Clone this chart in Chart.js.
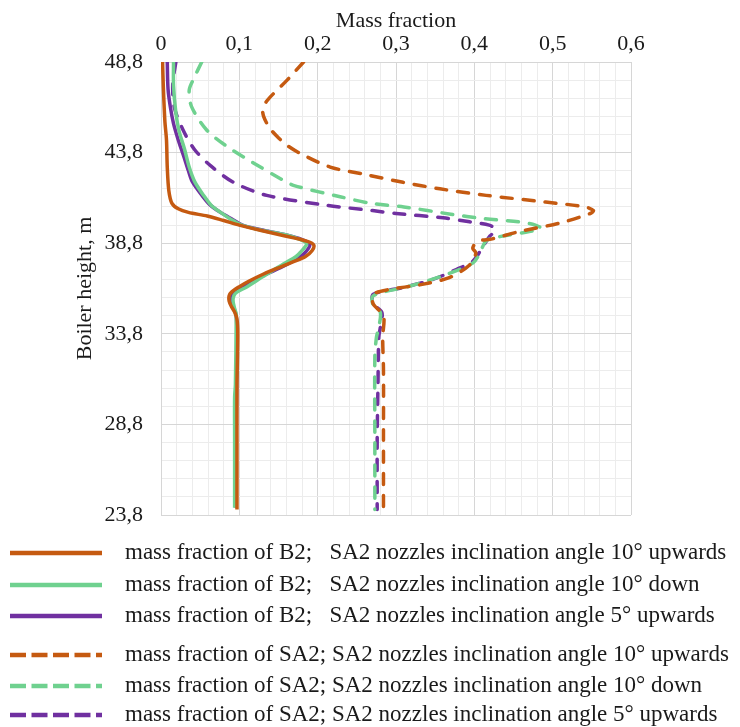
<!DOCTYPE html>
<html>
<head>
<meta charset="utf-8">
<script src="https://cdn.jsdelivr.net/npm/chart.js@4.4.1/dist/chart.umd.min.js"></script>
<style>
  html, body { margin: 0; padding: 0; background: #fff; }
  #wrap { width: 740px; height: 727px; position: relative; }
</style>
</head>
<body>
<div id="wrap"><canvas id="chart"></canvas></div>
<script>
// Axis ticks (major ticks carry labels, minor ones only grid lines)
const X_TICKS  = [0, 0.1, 0.2, 0.3, 0.4, 0.5, 0.6];
const X_LABELS = ['0', '0,1', '0,2', '0,3', '0,4', '0,5', '0,6'];
const X_MINOR  = 0.02;
const Y_TICKS  = [23.8, 28.8, 33.8, 38.8, 43.8, 48.8];
const Y_LABELS = ['23,8', '28,8', '33,8', '38,8', '43,8', '48,8'];
const Y_MINOR  = 1;

// Profiles: [boiler height (m), mass fraction]
const B2_UP10 = [
  [48.8, 0.002], [47.4, 0.003], [45.5, 0.005], [44.5, 0.007], [43.0, 0.008],
  [41.7, 0.010], [41.0, 0.014], [40.7, 0.022], [40.5, 0.035], [40.3, 0.059],
  [40.05, 0.080], [39.8, 0.100], [39.5, 0.128], [39.25, 0.153], [38.9, 0.187],
  [38.7, 0.195], [38.4, 0.193], [38.05, 0.184], [37.8, 0.170], [37.5, 0.153],
  [37.1, 0.131], [36.7, 0.112], [36.4, 0.100], [36.1, 0.090], [35.9, 0.087],
  [35.6, 0.087], [35.3, 0.090], [35.0, 0.094], [34.6, 0.097], [33.8, 0.098],
  [31.0, 0.097], [28.0, 0.097], [24.1, 0.097]
];
const B2_DOWN10 = [
  [48.8, 0.016], [47.5, 0.016], [46.0, 0.019], [45.0, 0.023], [44.0, 0.030],
  [43.0, 0.036], [42.2, 0.043], [41.4, 0.055], [40.9, 0.064], [40.5, 0.076],
  [40.1, 0.090], [39.8, 0.103], [39.5, 0.130], [39.25, 0.160], [39.0, 0.178],
  [38.8, 0.186], [38.6, 0.184], [38.3, 0.178], [38.05, 0.172], [37.7, 0.158],
  [37.3, 0.143], [36.9, 0.128], [36.4, 0.110], [36.1, 0.097], [35.9, 0.093],
  [35.6, 0.092], [35.2, 0.094], [34.9, 0.096], [34.5, 0.096], [31.0, 0.095],
  [30.3, 0.094], [28.0, 0.094], [24.2, 0.094]
];
const B2_UP5 = [
  [48.8, 0.008], [47.3, 0.009], [46.3, 0.012], [45.4, 0.016], [44.5, 0.022],
  [43.6, 0.029], [42.8, 0.035], [42.2, 0.040], [41.4, 0.053], [40.9, 0.063],
  [40.5, 0.076], [40.1, 0.092], [39.8, 0.104], [39.5, 0.132], [39.25, 0.160],
  [39.0, 0.180], [38.75, 0.190], [38.5, 0.188], [38.2, 0.182], [37.9, 0.172],
  [37.5, 0.155], [37.1, 0.135], [36.7, 0.118], [36.4, 0.105], [36.1, 0.094],
  [35.9, 0.090], [35.6, 0.090], [35.2, 0.093], [34.8, 0.096], [33.5, 0.097],
  [28.0, 0.096], [24.2, 0.096]
];
const SA2_UP10 = [
  [48.8, 0.182], [47.8, 0.161], [46.7, 0.136], [46.2, 0.130], [45.8, 0.131],
  [45.2, 0.138], [44.7, 0.148], [44.2, 0.161], [43.75, 0.178], [43.0, 0.216],
  [42.6, 0.260], [42.16, 0.309], [41.8, 0.356], [41.44, 0.415], [41.07, 0.491],
  [40.8, 0.542], [40.6, 0.552], [40.44, 0.548], [39.9, 0.508], [39.44, 0.457],
  [39.04, 0.423], [38.9, 0.404], [38.53, 0.398], [38.25, 0.402], [37.6, 0.394],
  [36.9, 0.368], [36.5, 0.330], [36.25, 0.292], [35.98, 0.271], [35.44, 0.271],
  [34.8, 0.284], [33.6, 0.283], [31.8, 0.284], [28.0, 0.284], [24.1, 0.284]
];
const SA2_DOWN10 = [
  [48.8, 0.052], [47.9, 0.042], [47.25, 0.036], [46.34, 0.039], [45.06, 0.058],
  [44.15, 0.084], [43.23, 0.118], [42.3, 0.155], [41.98, 0.170], [41.35, 0.230],
  [41.0, 0.268], [40.8, 0.310], [40.4, 0.370], [40.16, 0.411], [39.98, 0.457],
  [39.8, 0.478], [39.62, 0.485], [39.44, 0.470], [39.16, 0.432], [38.93, 0.415],
  [38.25, 0.407], [37.7, 0.398], [37.07, 0.364], [36.44, 0.318], [35.9, 0.271],
  [35.35, 0.271], [34.98, 0.280], [34.16, 0.278], [33.6, 0.275], [32.5, 0.273],
  [28.0, 0.273], [24.1, 0.273]
];
const SA2_UP5 = [
  [48.8, 0.019], [47.6, 0.015], [46.3, 0.017], [45.06, 0.028], [43.96, 0.043],
  [43.05, 0.064], [42.15, 0.093], [41.44, 0.135], [40.89, 0.212], [40.6, 0.270],
  [40.44, 0.300], [40.2, 0.360], [39.98, 0.394], [39.8, 0.419], [39.6, 0.426],
  [39.44, 0.426], [39.2, 0.420], [38.62, 0.411], [37.8, 0.398], [37.35, 0.377],
  [36.8, 0.347], [36.35, 0.309], [35.98, 0.271], [35.44, 0.271], [34.98, 0.282],
  [34.16, 0.280], [33.6, 0.278], [31.0, 0.277], [28.0, 0.276], [24.1, 0.276]
];

const SERIES_LABELS = [
  'mass fraction of B2;   SA2 nozzles inclination angle 10° upwards',
  'mass fraction of B2;   SA2 nozzles inclination angle 10° down',
  'mass fraction of B2;   SA2 nozzles inclination angle 5° upwards',
  'mass fraction of SA2; SA2 nozzles inclination angle 10° upwards',
  'mass fraction of SA2; SA2 nozzles inclination angle 10° down',
  'mass fraction of SA2; SA2 nozzles inclination angle 5° upwards'
];

const ORANGE = '#c55a11';
const GREEN  = '#6fd18f';
const PURPLE = '#7030a0';
const TEXT   = '#1a1a1a';
const FONT   = '"Liberation Serif", "Times New Roman", serif';
const GRID_MAJOR = '#d6d6d6';
const GRID_MINOR = '#ececec';

/* legend rows, drawn below the plot (one item per row, gap after solid group) */
const LEGEND_Y = [553, 585, 616, 655, 686, 715];

const toPoints = rows => rows.map(([h, v]) => ({ x: v, y: h }));

function makeSet(label, rows, color, dashed) {
  return {
    label,
    data: toPoints(rows),
    showLine: true,
    borderColor: color,
    backgroundColor: color,
    borderWidth: 3.5,
    borderDash: dashed ? [11, 11] : [],
    borderCapStyle: dashed ? 'round' : 'butt',
    pointRadius: 0,
    tension: 0.3,
    fill: false,
  };
}

function buildTicks(min, max, step, majors) {
  const n = Math.round((max - min) / step);
  const out = [];
  for (let i = 0; i <= n; i++) {
    const value = Math.round((min + i * step) * 1000) / 1000;
    out.push({ value, main: majors.some(m => Math.abs(m - value) < 1e-6) });
  }
  return out;
}

function labelFor(ticks, labels, value) {
  const idx = ticks.findIndex(t => Math.abs(t - value) < 1e-6);
  return idx >= 0 ? labels[idx] : '';
}

const legendRows = {
  id: 'legendRows',
  afterDraw(chart) {
    const ctx = chart.ctx;
    ctx.save();
    chart.data.datasets.forEach((ds, i) => {
      const y = LEGEND_Y[i];
      ctx.strokeStyle = ds.borderColor;
      ctx.lineWidth = 4.5;
      ctx.lineCap = 'butt';
      ctx.setLineDash(ds.borderDash.length ? [16, 5.5] : []);
      ctx.beginPath();
      ctx.moveTo(10, y);
      ctx.lineTo(102, y);
      ctx.stroke();
      ctx.setLineDash([]);
      ctx.fillStyle = TEXT;
      ctx.font = '23px ' + FONT;
      ctx.textBaseline = 'middle';
      ctx.textAlign = 'left';
      ctx.fillText(ds.label, 125, y);
    });
    ctx.restore();
  }
};

new Chart(document.getElementById('chart').getContext('2d'), {
  type: 'scatter',
  data: {
    datasets: [
      makeSet(SERIES_LABELS[0], B2_UP10,    ORANGE, false),
      makeSet(SERIES_LABELS[1], B2_DOWN10,  GREEN,  false),
      makeSet(SERIES_LABELS[2], B2_UP5,     PURPLE, false),
      makeSet(SERIES_LABELS[3], SA2_UP10,   ORANGE, true),
      makeSet(SERIES_LABELS[4], SA2_DOWN10, GREEN,  true),
      makeSet(SERIES_LABELS[5], SA2_UP5,    PURPLE, true),
    ],
  },
  options: {
    responsive: true,
    maintainAspectRatio: false,
    animation: false,
    layout: { padding: { left: 0, right: 109, top: 0, bottom: 212 } },
    plugins: {
      legend: { display: false },
      tooltip: { enabled: false },
    },
    scales: {
      x: {
        type: 'linear',
        position: 'top',
        min: 0,
        max: 0.6,
        afterBuildTicks: s => { s.ticks = buildTicks(0, 0.6, X_MINOR, X_TICKS); },
        afterFit: s => { s.height = 62; },
        grid: {
          color: c => (c.tick && c.tick.main ? GRID_MAJOR : GRID_MINOR),
          drawTicks: false,
          lineWidth: 1,
        },
        border: { color: GRID_MAJOR },
        ticks: {
          autoSkip: false,
          maxRotation: 0,
          padding: 5,
          color: TEXT,
          font: { family: FONT, size: 22 },
          callback: v => labelFor(X_TICKS, X_LABELS, v),
        },
        title: {
          display: true,
          text: 'Mass fraction',
          color: TEXT,
          font: { family: FONT, size: 22 },
          padding: { top: 8, bottom: 0 },
        },
      },
      y: {
        type: 'linear',
        min: 23.8,
        max: 48.8,
        afterBuildTicks: s => { s.ticks = buildTicks(23.8, 48.8, Y_MINOR, Y_TICKS); },
        afterFit: s => { s.width = 161; },
        grid: {
          color: c => (c.tick && c.tick.main ? GRID_MAJOR : GRID_MINOR),
          drawTicks: false,
          lineWidth: 1,
        },
        border: { color: GRID_MAJOR },
        ticks: {
          autoSkip: false,
          padding: 18,
          color: TEXT,
          font: { family: FONT, size: 22 },
          callback: v => labelFor(Y_TICKS, Y_LABELS, v),
        },
        title: {
          display: true,
          text: 'Boiler height, m',
          color: TEXT,
          font: { family: FONT, size: 22 },
          padding: { top: 72, bottom: 0 },
        },
      },
    },
  },
  plugins: [legendRows],
});
</script>
</body>
</html>
